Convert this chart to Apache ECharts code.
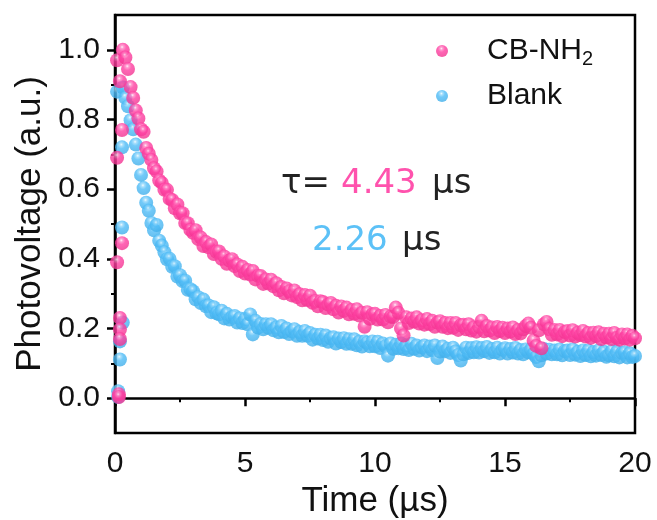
<!DOCTYPE html>
<html>
<head>
<meta charset="utf-8">
<script src="https://cdn.jsdelivr.net/npm/echarts@6/dist/echarts.min.js"></script>
<style>
  html, body { margin: 0; padding: 0; background: #fff; }
  #chart { width: 657px; height: 520px; }
</style>
</head>
<body>
<div id="chart"></div>
<script>
// decay traces sampled every 0.1 us starting at 0.3 us
var decayStart = 0.3;
var decayStep = 0.1;

var pinkDecay = [
  1.000, 0.978, 0.945, 0.893, 0.862, 0.826, 0.803,
  0.772, 0.765, 0.718, 0.702, 0.684, 0.660, 0.651, 0.625, 0.618, 0.598,
  0.598, 0.572, 0.569, 0.545, 0.556, 0.531, 0.531, 0.503, 0.502, 0.483,
  0.475, 0.482, 0.457, 0.461, 0.437, 0.448, 0.433, 0.441, 0.414, 0.420,
  0.421, 0.400, 0.407, 0.386, 0.395, 0.399, 0.379, 0.384, 0.365, 0.377,
  0.358, 0.368, 0.355, 0.365, 0.341, 0.351, 0.351, 0.328, 0.341, 0.329,
  0.340, 0.321, 0.330, 0.310, 0.319, 0.301, 0.315, 0.307, 0.295, 0.309,
  0.290, 0.298, 0.281, 0.296, 0.282, 0.294, 0.274, 0.279, 0.264, 0.278,
  0.276, 0.259, 0.269, 0.273, 0.255, 0.265, 0.246, 0.263, 0.251, 0.260,
  0.241, 0.253, 0.242, 0.255, 0.237, 0.245, 0.205, 0.247, 0.228, 0.240,
  0.242, 0.226, 0.236, 0.226, 0.239, 0.218, 0.234, 0.233, 0.260, 0.245,
  0.200, 0.180, 0.232, 0.216, 0.229, 0.220, 0.232, 0.214, 0.224, 0.211,
  0.227, 0.213, 0.222, 0.205, 0.217, 0.221, 0.205, 0.216, 0.201, 0.216,
  0.202, 0.216, 0.196, 0.209, 0.211, 0.198, 0.212, 0.194, 0.203, 0.191,
  0.205, 0.222, 0.192, 0.207, 0.194, 0.203, 0.187, 0.204, 0.193, 0.202,
  0.187, 0.200, 0.191, 0.203, 0.184, 0.196, 0.186, 0.198, 0.207, 0.214,
  0.202, 0.165, 0.150, 0.195, 0.143, 0.212, 0.219, 0.198, 0.182, 0.196,
  0.183, 0.196, 0.178, 0.190, 0.193, 0.180, 0.195, 0.177, 0.188, 0.181,
  0.193, 0.177, 0.187, 0.173, 0.188, 0.178, 0.189, 0.170, 0.185, 0.174,
  0.185, 0.170, 0.187, 0.173, 0.168, 0.183, 0.171, 0.183, 0.168, 0.179,
  0.172
];

var blueDecay = [
  0.892, 0.862, 0.838, 0.798, 0.772, 0.728, 0.688,
  0.641, 0.603, 0.561, 0.538, 0.503, 0.482, 0.497, 0.452, 0.438, 0.419,
  0.399, 0.400, 0.377, 0.379, 0.349, 0.353, 0.336, 0.337, 0.311, 0.313,
  0.307, 0.284, 0.290, 0.273, 0.283, 0.264, 0.266, 0.247, 0.261, 0.244,
  0.241, 0.251, 0.229, 0.242, 0.226, 0.233, 0.236, 0.217, 0.229, 0.216,
  0.227, 0.212, 0.240, 0.183, 0.222, 0.203, 0.213, 0.198, 0.212, 0.202,
  0.212, 0.195, 0.203, 0.189, 0.207, 0.190, 0.200, 0.184, 0.192, 0.198,
  0.179, 0.190, 0.179, 0.193, 0.179, 0.187, 0.168, 0.182, 0.171, 0.182,
  0.167, 0.180, 0.162, 0.172, 0.175, 0.157, 0.171, 0.161, 0.172, 0.156,
  0.169, 0.156, 0.169, 0.152, 0.162, 0.148, 0.163, 0.159, 0.149, 0.163,
  0.149, 0.162, 0.144, 0.157, 0.149, 0.122, 0.157, 0.142, 0.153, 0.143,
  0.157, 0.141, 0.151, 0.138, 0.156, 0.142, 0.151, 0.137, 0.146, 0.151,
  0.135, 0.148, 0.138, 0.151, 0.115, 0.134, 0.148, 0.135, 0.142, 0.130,
  0.145, 0.134, 0.124, 0.108, 0.126, 0.145, 0.130, 0.144, 0.132, 0.146,
  0.131, 0.144, 0.135, 0.147, 0.130, 0.141, 0.132, 0.145, 0.128, 0.139,
  0.143, 0.128, 0.141, 0.131, 0.144, 0.128, 0.138, 0.126, 0.140, 0.132,
  0.140, 0.127, 0.118, 0.106, 0.123, 0.141, 0.128, 0.139, 0.126, 0.137,
  0.126, 0.140, 0.123, 0.135, 0.137, 0.124, 0.140, 0.125, 0.133, 0.121,
  0.137, 0.124, 0.137, 0.120, 0.132, 0.122, 0.137, 0.124, 0.133, 0.119,
  0.123, 0.135, 0.120, 0.133, 0.117, 0.130, 0.132, 0.117, 0.129, 0.118,
  0.121
];

// scattered points during the pulse rise
var pinkEarlyT = [0.08, 0.08, 0.08, 0.15, 0.15, 0.19, 0.19, 0.19, 0.19, 0.27, 0.27];
var pinkEarlyV = [0.97, 0.69, 0.39, 0.011, 0.003, 0.91, 0.23, 0.197, 0.17, 0.77, 0.445];
var blueEarlyT = [0.08, 0.12, 0.12, 0.19, 0.19, 0.27, 0.27, 0.30];
var blueEarlyV = [0.88, 0.003, 0.02, 0.163, 0.111, 0.72, 0.49, 0.217];

var yLabelValues = [0, 0.2, 0.4, 0.6, 0.8, 1.0];
var yMinorValues = [0.1, 0.3, 0.5, 0.7, 0.9];

function buildSeries(earlyT, earlyV, decay) {
  var pts = [];
  for (var i = 0; i < earlyT.length; i++) pts.push([earlyT[i], earlyV[i]]);
  for (var j = 0; j < decay.length; j++) {
    pts.push([+(decayStart + j * decayStep).toFixed(2), decay[j]]);
  }
  return pts;
}

function ball(c0, c1, c2, c3) {
  return {
    type: 'radial', x: 0.45, y: 0.3, r: 0.7,
    colorStops: [
      { offset: 0, color: c0 },
      { offset: 0.16, color: c1 },
      { offset: 0.42, color: c2 },
      { offset: 1, color: c3 }
    ]
  };
}

var font = 'Liberation Sans, Arial, sans-serif';
var tauFont = 'DejaVu Sans';
var pink = ball('#ffeef7', '#ff86c5', '#ff3fa2', '#f0338f');
var blue = ball('#f0faff', '#95d8fb', '#4fbcf7', '#40aee9');

function label(txt, x, y, color) {
  return {
    type: 'text', left: x, top: y,
    style: { text: txt, fill: color, fontSize: 34, fontFamily: tauFont }
  };
}

var myChart = echarts.init(document.getElementById('chart'));
var option = {
  backgroundColor: '#fff',
  animation: false,
  grid: {
    left: 115, right: 22, top: 15, bottom: 87,
    show: true, borderColor: '#000', borderWidth: 2.5,
    outerBoundsMode: 'none'
  },
  legend: {
    left: 431, top: 31,
    orient: 'vertical',
    itemGap: 12,
    icon: 'circle',
    itemWidth: 12, itemHeight: 12,
    data: ['CB-NH2', 'Blank'],
    formatter: function (name) {
      return name === 'CB-NH2' ? '{a|CB-NH}{s|2}' : '{a|Blank}';
    },
    textStyle: {
      padding: [0, 0, 0, 34],
      rich: {
        a: { fontSize: 30, lineHeight: 36, fontFamily: font, color: '#111' },
        s: { fontSize: 20, lineHeight: 14, verticalAlign: 'bottom', fontFamily: font, color: '#111' }
      }
    }
  },
  xAxis: {
    type: 'value',
    min: 0, max: 20, interval: 5,
    name: 'Time (µs)',
    nameLocation: 'middle',
    nameGap: 49,
    nameTextStyle: { fontSize: 35, fontFamily: font, color: '#111' },
    axisLine: { lineStyle: { color: '#000', width: 2.5 } },
    axisTick: { length: 8, lineStyle: { color: '#000', width: 2.5 } },
    minorTick: { show: true, splitNumber: 2, length: 4, lineStyle: { color: '#000', width: 2 } },
    axisLabel: { fontSize: 30, fontFamily: font, color: '#111', margin: 16 },
    splitLine: { show: false }
  },
  yAxis: [{
    type: 'value',
    min: -0.1, max: 1.1,
    name: 'Photovoltage (a.u.)',
    nameLocation: 'middle',
    nameGap: 67,
    nameTextStyle: { fontSize: 35, fontFamily: font, color: '#111' },
    axisLine: { show: true, lineStyle: { color: '#000', width: 2.5 } },
    axisTick: { show: true, length: 8, customValues: yLabelValues, lineStyle: { color: '#000', width: 2.5 } },
    axisLabel: {
      fontSize: 30, fontFamily: font, color: '#111', margin: 15,
      customValues: yLabelValues,
      formatter: function (v) { return v.toFixed(1); }
    },
    splitLine: { show: false }
  }, {
    type: 'value',
    position: 'left',
    min: -0.1, max: 1.1,
    axisLine: { show: false },
    axisTick: { show: true, length: 4, customValues: yMinorValues, lineStyle: { color: '#000', width: 2 } },
    axisLabel: { show: false },
    splitLine: { show: false }
  }],
  graphic: [
    label('τ=', 281, 167, '#222'),
    label('4.43', 341, 167, '#ff52ad'),
    label('µs', 432, 167, '#222'),
    label('2.26', 312, 224, '#5cc1f7'),
    label('µs', 402, 224, '#222')
  ],
  series: [{
    name: 'Blank',
    type: 'scatter',
    symbolSize: 14,
    itemStyle: { color: blue },
    emphasis: { disabled: true },
    data: buildSeries(blueEarlyT, blueEarlyV, blueDecay)
  }, {
    name: 'CB-NH2',
    type: 'scatter',
    symbolSize: 14,
    itemStyle: { color: pink },
    emphasis: { disabled: true },
    data: buildSeries(pinkEarlyT, pinkEarlyV, pinkDecay)
  }]
};
myChart.setOption(option);
</script>
</body>
</html>
